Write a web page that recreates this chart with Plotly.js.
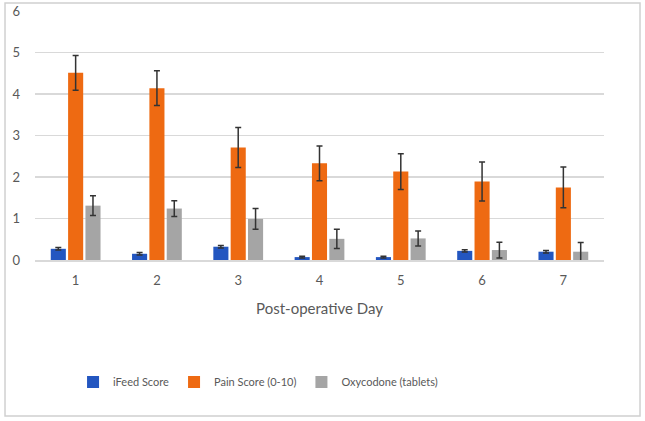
<!DOCTYPE html>
<html><head><meta charset="utf-8">
<script src="https://cdn.plot.ly/plotly-3.0.1.min.js"></script>
<style>html,body{margin:0;padding:0;background:#fff}#chart{width:645px;height:421px}</style>
</head><body><div id="chart"></div>
<script>
const days = ['1','2','3','4','5','6','7'];
const ifeed = [0.27, 0.15, 0.32, 0.07, 0.07, 0.22, 0.20];
const ifeedErr = [0.03, 0.03, 0.03, 0.02, 0.02, 0.03, 0.03];
const pain = [4.51, 4.14, 2.71, 2.33, 2.13, 1.89, 1.75];
const painErr = [0.42, 0.42, 0.48, 0.42, 0.43, 0.47, 0.49];
const oxy = [1.31, 1.24, 0.99, 0.51, 0.52, 0.24, 0.20];
const oxyErr = [0.24, 0.19, 0.25, 0.23, 0.18, 0.19, 0.22];
const names = ['iFeed Score', 'Pain Score (0-10)', 'Oxycodone (tablets)'];
const colors = ['#2356C0', '#EE6A12', '#A5A5A5'];

const err = a => ({type:'data', array:a, visible:true, color:'#333333', thickness:1.5, width:3});
const data = [
  {type:'bar', name:names[0], x:days, y:ifeed, error_y:err(ifeedErr), marker:{color:colors[0]}},
  {type:'bar', name:names[1], x:days, y:pain, error_y:err(painErr), marker:{color:colors[1]}},
  {type:'bar', name:names[2], x:days, y:oxy, error_y:err(oxyErr), marker:{color:colors[2]}}
];
const font = {family:'Lato, "Liberation Sans", sans-serif', color:'#595959', size:12};
const layout = {
  width:645, height:421,
  margin:{l:35, r:41, t:11, b:161},
  paper_bgcolor:'#fff', plot_bgcolor:'#fff',
  font:font,
  barmode:'group', bargap:0.36, bargroupgap:0.13,
  showlegend:true,
  legend:{orientation:'h', x:0.392, xanchor:'center', y:-0.49, yanchor:'middle', font:{size:11, color:'#595959'}, itemwidth:30, traceorder:'normal'},
  xaxis:{type:'category', showgrid:false, zeroline:false, showline:true, linecolor:'#d9d9d9', linewidth:1.5, ticks:'', tickfont:{size:13}, ticklabelstandoff:8, title:{text:'Post-operative Day', font:{size:15, color:'#595959'}, standoff:16}},
  yaxis:{range:[0,6], dtick:1, showgrid:true, gridcolor:'#d9d9d9', gridwidth:1.5, zeroline:false, showline:false, ticks:'', tickfont:{size:13}, ticklabelstandoff:14},
  shapes:[{type:'rect', xref:'paper', yref:'paper', x0:-0.0527, x1:1.0633, y0:-0.6265, y1:1.032, line:{color:'#d0d0d0', width:1.5}, fillcolor:'rgba(0,0,0,0)'}]
};
Plotly.newPlot('chart', data, layout, {displayModeBar:false, staticPlot:true});
</script></body></html>
